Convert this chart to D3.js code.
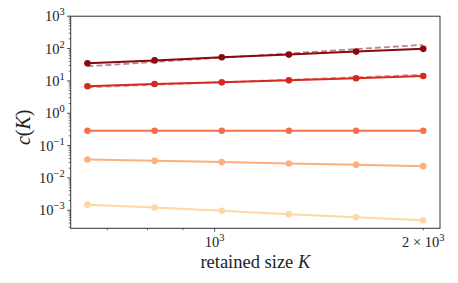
<!DOCTYPE html>
<html><head><meta charset="utf-8">
<script src="https://cdn.jsdelivr.net/npm/d3@7"></script>
<style>body{margin:0;background:#fff}svg{display:block}text{font-family:"Liberation Serif","DejaVu Serif",serif;fill:#222}</style>
</head><body><svg id="c" width="458" height="283"></svg>
<script>
const sizes = [655.36, 819.2, 1024, 1280, 1600, 2000];
const series1 = [35, 43, 53.6, 65, 80.5, 97.7];
const series2 = [6.8, 8.0, 9.0, 10.4, 12.0, 14.2];
const series3 = [0.287, 0.287, 0.287, 0.287, 0.287, 0.287];
const series4 = [0.037, 0.0337, 0.0308, 0.0279, 0.0253, 0.0231];
const series5 = [0.00149, 0.00121, 0.00097, 0.000753, 0.000608, 0.000491];
const fit1 = [28.3, 38.4, 52.2, 70.8, 96.1, 130.5];
const fit2 = [6.3, 7.55, 9.06, 10.85, 13.0, 15.6];
const colors = ["#870a0c", "#d42a20", "#f4714c", "#fdb07c", "#fdd7a4"];
const yTickExps = [-3, -2, -1, 0, 1, 2, 3];

const svg = d3.select("#c");
const L = 70.7, R = 440, T = 16.2, B = 228.3;
const x = d3.scaleLog().domain([Math.pow(10, 2.7923), Math.pow(10, 3.3252)]).range([L, R]);
const y = d3.scaleLog().domain([Math.pow(10, -3.558), 1000]).range([B, T]);

const g = svg.append("g");
const line = d3.line().x((d, i) => x(sizes[i])).y(d => y(d));
const all = [series1, series2, series3, series4, series5];
all.forEach((s, k) => {
  g.append("path").attr("d", line(s)).attr("fill", "none")
    .attr("stroke", colors[k]).attr("stroke-width", 2);
  g.selectAll(null).data(s).enter().append("circle")
    .attr("cx", (d, i) => x(sizes[i])).attr("cy", d => y(d)).attr("r", 3.3)
    .attr("fill", colors[k]);
});
[[fit1, colors[0]], [fit2, colors[1]]].forEach(([s, c]) => {
  g.append("path").attr("d", line(s)).attr("fill", "none")
    .attr("stroke", c).attr("stroke-width", 1.8).attr("stroke-opacity", 0.5)
    .attr("stroke-dasharray", "6,3");
});

svg.append("rect").attr("x", L).attr("y", T).attr("width", R - L).attr("height", B - T)
  .attr("fill", "none").attr("stroke", "#333").attr("stroke-width", 1);

const ymaj = yTickExps.map(e => Math.pow(10, e));
const ymin = [];
for (let e = -4; e <= 2; e++) for (let m = 2; m <= 9; m++) {
  const v = m * Math.pow(10, e);
  if (y(v) <= B && y(v) >= T) ymin.push(v);
}
svg.selectAll(null).data(ymin).enter().append("line")
  .attr("x1", L).attr("x2", L - 2).attr("y1", d => y(d)).attr("y2", d => y(d))
  .attr("stroke", "#333").attr("stroke-width", 0.7);
svg.selectAll(null).data(ymaj).enter().append("line")
  .attr("x1", L).attr("x2", L - 3.5).attr("y1", d => y(d)).attr("y2", d => y(d))
  .attr("stroke", "#333").attr("stroke-width", 0.9);
const yl = svg.selectAll(null).data(yTickExps).enter().append("text")
  .attr("x", L - 6).attr("y", d => y(Math.pow(10, d)) + 5).attr("text-anchor", "end")
  .attr("font-size", 14.5);
yl.append("tspan").text("10");
yl.append("tspan").attr("dy", -6).attr("font-size", 10.5).text(d => d < 0 ? "\u2212" + (-d) : String(d));

const xMinor = [700, 800, 900];
const xLabeled = [1000, 2000];
svg.selectAll(null).data(xMinor).enter().append("line")
  .attr("x1", d => x(d)).attr("x2", d => x(d)).attr("y1", B).attr("y2", B + 2)
  .attr("stroke", "#333").attr("stroke-width", 0.7);
svg.selectAll(null).data(xLabeled).enter().append("line")
  .attr("x1", d => x(d)).attr("x2", d => x(d)).attr("y1", B).attr("y2", d => B + (d === 1000 ? 3.5 : 2))
  .attr("stroke", "#333").attr("stroke-width", 0.8);
const xl1 = svg.append("text").attr("x", x(1000)).attr("y", B + 18.5).attr("text-anchor", "middle").attr("font-size", 14.5);
xl1.append("tspan").text("10");
xl1.append("tspan").attr("dy", -6).attr("font-size", 10.5).text("3");
const xl2 = svg.append("text").attr("x", x(2000)).attr("y", B + 18.5).attr("text-anchor", "middle").attr("font-size", 14.5);
xl2.append("tspan").text("2 \u00d7 10");
xl2.append("tspan").attr("dy", -6).attr("font-size", 10.5).text("3");

const xt = svg.append("text").attr("x", (L + R) / 2).attr("y", 268).attr("text-anchor", "middle").attr("font-size", 18.5);
xt.append("tspan").text("retained size ");
xt.append("tspan").attr("font-style", "italic").text("K");
const yt = svg.append("text").attr("transform", `translate(30,${(T + B) / 2 + 5}) rotate(-90)`)
  .attr("text-anchor", "middle").attr("font-size", 20);
yt.append("tspan").attr("font-style", "italic").text("c");
yt.append("tspan").text("(");
yt.append("tspan").attr("font-style", "italic").text("K");
yt.append("tspan").text(")");
</script></body></html>
